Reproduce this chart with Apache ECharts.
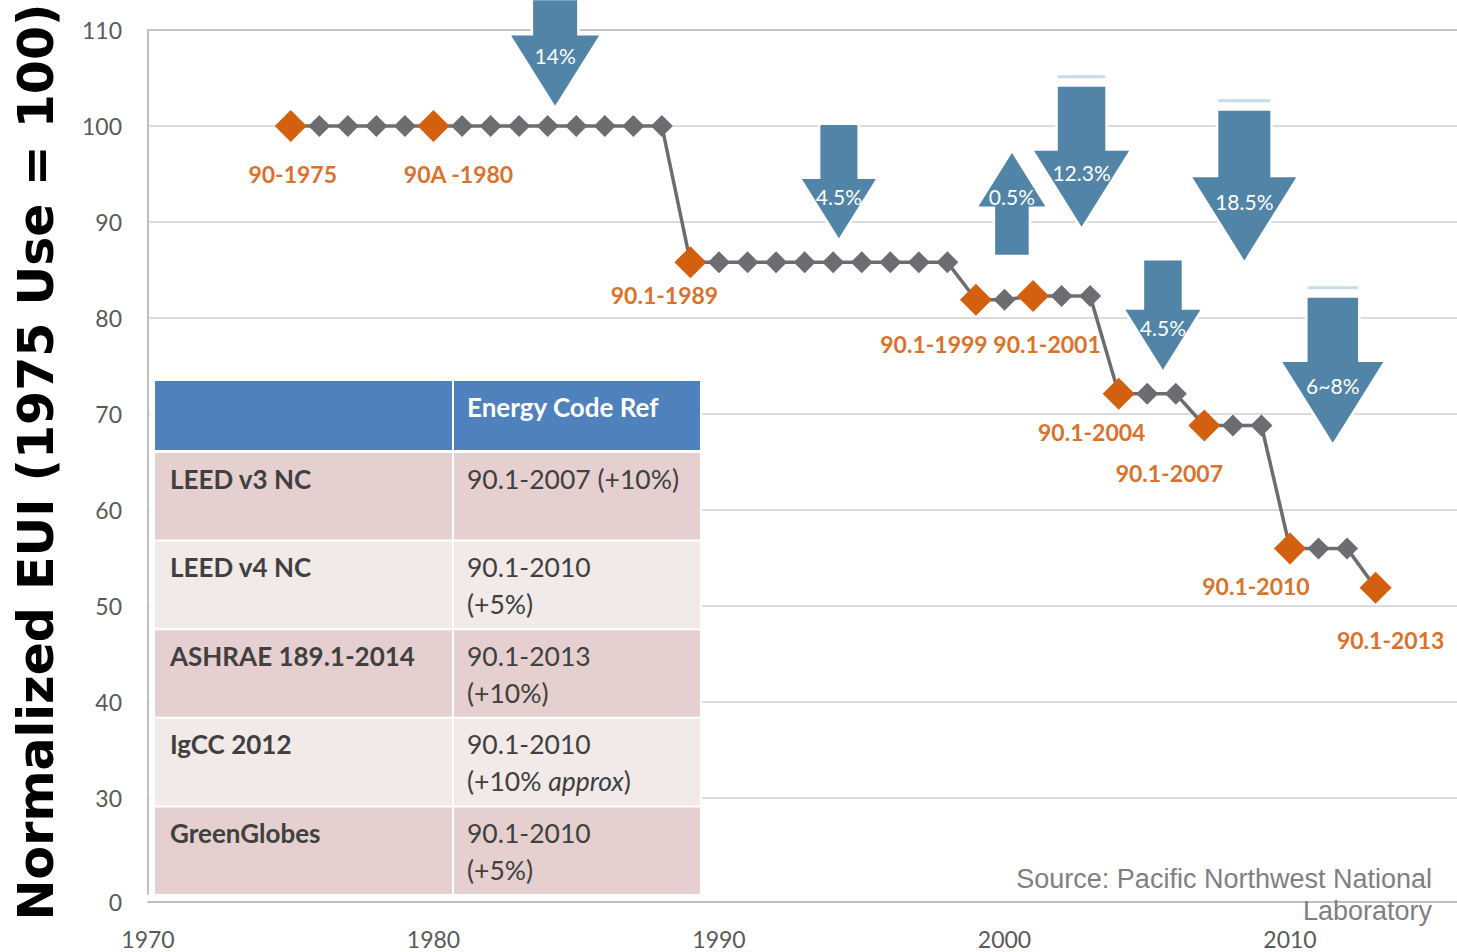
<!DOCTYPE html>
<html>
<head>
<meta charset="utf-8">
<script src="https://cdn.jsdelivr.net/npm/echarts@6/dist/echarts.min.js"></script>
<style>
  html, body { margin: 0; padding: 0; background: #fff; }
  #chart { width: 1457px; height: 952px; }
</style>
</head>
<body>
<div id="chart"></div>
<script>
/* ASHRAE 90.1 normalized EUI history, with green-code table overlay */

// yearly EUI (1975 = 100)
const years = [1975, 1976, 1977, 1978, 1979, 1980, 1981, 1982, 1983, 1984, 1985, 1986, 1987, 1988,
  1989, 1990, 1991, 1992, 1993, 1994, 1995, 1996, 1997, 1998,
  1999, 2000, 2001, 2002, 2003, 2004, 2005, 2006, 2007, 2008, 2009, 2010, 2011, 2012, 2013];
const euiValues = [100, 100, 100, 100, 100, 100, 100, 100, 100, 100, 100, 100, 100, 100,
  85.8, 85.8, 85.8, 85.8, 85.8, 85.8, 85.8, 85.8, 85.8, 85.8,
  81.9, 81.9, 82.3, 82.3, 82.3, 72.1, 72.1, 72.1, 68.8, 68.8, 68.8, 56.0, 56.0, 56.0, 51.9];

// code editions (orange points)
const codeYears = [1975, 1980, 1989, 1999, 2001, 2004, 2007, 2010, 2013];
const codeValues = [100, 100, 85.8, 81.9, 82.3, 72.1, 68.8, 56.0, 51.9];
const codeNames = ['90-1975', '90A -1980', '90.1-1989', '90.1-1999', '90.1-2001',
  '90.1-2004', '90.1-2007', '90.1-2010', '90.1-2013'];

// savings arrows: x (year), from value, to value, text
const arrowX = [1984.26, 1994.2, 2000.26, 2002.7, 2008.4, 2005.55, 2011.5];
const arrowFrom = [113.1, 100.1, 86.6, 104.1, 101.6, 86.0, 82.1];
const arrowTo = [102.1, 88.3, 97.2, 89.5, 86.0, 74.6, 67.0];
const arrowLabels = ['14%', '4.5%', '0.5%', '12.3%', '18.5%', '4.5%', '6~8%'];

// y ticks
const yTicks = [20, 30, 40, 50, 60, 70, 80, 90, 100, 110];
const yTickText = ['0', '30', '40', '50', '60', '70', '80', '90', '100', '110'];

// table
const tableHeader = ['', 'Energy Code Ref'];
const tablePrograms = ['LEED v3 NC', 'LEED v4 NC', 'ASHRAE 189.1-2014', 'IgCC 2012', 'GreenGlobes'];
const tableRefs = ['90.1-2007 (+10%)', '90.1-2010\n(+5%)', '90.1-2013\n(+10%)',
  '90.1-2010\n(+10% {i|approx})', '90.1-2010\n(+5%)'];

const sourceText = 'Source: Pacific Northwest National\nLaboratory';

// ---- styles / layout (not data) ----
const ORANGE = '#d2600e';
const ORANGE_TXT = '#d9732c';
const GREY = '#6b6d71';
const BLUE = '#5184a6';
const labelOffsets = [[2, 48], [25, 48], [-26, 33], [-42, 44], [14, 48], [-27, 38], [-35, 47], [-34, 38], [15, 52]];
const arrowWidths = [88, 74, 67, 95, 104, 75, 101];
const arrowCapped = [false, false, false, true, true, false, true];

const chart = echarts.init(document.getElementById('chart'), null, { renderer: 'svg' });

const splitColors = yTicks.map((v, i) => (i === 0 ? 'rgba(0,0,0,0)' : (i === yTicks.length - 1 ? '#c4c4c4' : '#dcdcdc')));

function renderArrow(params, api) {
  const i = params.dataIndex;
  const w = arrowWidths[i];
  const p0 = api.coord([api.value(0), api.value(1)]);
  const p1 = api.coord([api.value(0), api.value(2)]);
  const dir = p1[1] > p0[1] ? 1 : -1;
  const head = w * 0.8;
  const sw = w * 0.5;
  const cx = p0[0];
  const baseY = p1[1] - dir * head;
  const pts = [
    [cx - sw / 2, p0[1]], [cx + sw / 2, p0[1]], [cx + sw / 2, baseY], [cx + w / 2, baseY],
    [cx, p1[1]], [cx - w / 2, baseY], [cx - sw / 2, baseY],
  ];
  const children = [{
    type: 'polygon',
    shape: { points: pts },
    style: { fill: BLUE, stroke: '#fff', lineWidth: 5 },
    z2: 1,
  }, {
    type: 'polygon',
    shape: { points: pts },
    style: { fill: BLUE },
    z2: 2,
  }, {
    type: 'text',
    style: {
      text: arrowLabels[i],
      x: cx,
      y: baseY + dir * head * (dir > 0 ? 0.29 : 0.18),
      align: 'center',
      verticalAlign: 'middle',
      fill: '#fff',
      fontSize: 21,
      fontFamily: 'Lato',
    },
    z2: 3,
  }];
  if (arrowCapped[i]) {
    children.push({
      type: 'line',
      shape: { x1: cx - sw / 2, y1: p0[1] - 10, x2: cx + sw / 2, y2: p0[1] - 10 },
      style: { stroke: '#c9dbe7', lineWidth: 3 },
    });
  }
  return { type: 'group', children };
}

// table graphic
const T = { left: 155, right: 700, split: 452, top: 381, headH: 69, rowTop: 452, bottom: 895 };
const rowH = (T.bottom - T.rowTop) / tablePrograms.length;
const TZ = 20;
const tableEls = [
  { type: 'rect', z: TZ, shape: { x: 150, y: 377, width: 552, height: 522 }, style: { fill: '#fff' } },
  { type: 'rect', z: TZ, shape: { x: T.left, y: T.top, width: T.right - T.left, height: T.headH }, style: { fill: '#4f81bd' } },
  {
    type: 'text', z: TZ + 2,
    style: { text: tableHeader[1], x: T.split + 15, y: T.top + 26, verticalAlign: 'middle',
      fill: '#fff', fontSize: 26, fontWeight: 'bold', fontFamily: 'Lato' },
  },
];
tablePrograms.forEach((name, i) => {
  const y0 = T.rowTop + i * rowH;
  tableEls.push({
    type: 'rect', z: TZ,
    shape: { x: T.left, y: y0 + 1, width: T.right - T.left, height: rowH - 2 },
    style: { fill: i % 2 === 0 ? '#e6cfcf' : '#f2e9e9' },
  });
  tableEls.push({
    type: 'text', z: TZ + 2,
    style: { text: name, x: T.left + 15, y: y0 + 8, verticalAlign: 'top', lineHeight: 37,
      fill: '#404040', fontSize: 26, fontWeight: 'bold', fontFamily: 'Lato' },
  });
  tableEls.push({
    type: 'text', z: TZ + 2,
    style: { text: tableRefs[i], x: T.split + 15, y: y0 + 8, verticalAlign: 'top', lineHeight: 37,
      fill: '#404040', fontSize: 26.5, fontFamily: 'Lato',
      rich: { i: { fontStyle: 'italic', fontSize: 26.5, fontFamily: 'Lato', fill: '#404040', lineHeight: 37 } } },
  });
});
tableEls.push({ type: 'rect', z: TZ + 1, shape: { x: T.split, y: T.top, width: 2, height: T.bottom - T.top }, style: { fill: '#fff' } });

chart.setOption({
  backgroundColor: '#fff',
  animation: false,
  grid: { left: 148, right: 0, top: 30, bottom: 58 },
  xAxis: {
    type: 'value',
    min: 1970,
    max: 2015.85,
    interval: 10,
    offset: 8,
    axisLine: { lineStyle: { color: '#bfbfbf', width: 2 } },
    axisTick: { show: false },
    splitLine: { show: false },
    axisLabel: {
      showMaxLabel: false,
      margin: 25,
      color: '#595959',
      fontSize: 23,
      fontFamily: 'Lato',
      formatter: (v) => String(v),
    },
  },
  yAxis: {
    type: 'value',
    min: 20,
    max: 110,
    interval: 10,
    name: 'Normalized EUI (1975 Use = 100)',
    nameLocation: 'middle',
    nameGap: 87,
    nameTextStyle: { fontFamily: 'DejaVu Sans', fontWeight: 'bold', fontSize: 49, color: '#000' },
    axisLine: { show: true, lineStyle: { color: '#bfbfbf', width: 2 } },
    axisTick: { show: false },
    splitLine: { lineStyle: { color: splitColors, width: 2 } },
    axisLabel: {
      margin: 26,
      color: '#595959',
      fontSize: 23,
      fontFamily: 'Lato',
      formatter: (v) => {
        const t = yTickText[yTicks.indexOf(v)];
        return v === 20 ? '{z|' + t + '}' : t;
      },
      rich: { z: { padding: [16, 0, 0, 0], fontSize: 23, fontFamily: 'Lato', color: '#595959' } },
    },
  },
  graphic: [
    { type: 'group', z: TZ, children: tableEls },
    {
      type: 'text', z: TZ,
      style: { text: sourceText, x: 1432, y: 863, align: 'right', verticalAlign: 'top', lineHeight: 32,
        fill: '#7f7f7f', fontSize: 27, fontFamily: 'Liberation Sans' },
    },
  ],
  series: [
    {
      type: 'custom',
      name: 'savings',
      clip: false,
      z: 1,
      silent: true,
      renderItem: renderArrow,
      encode: { x: 0, y: [1, 2] },
      data: arrowX.map((x, i) => [x, arrowFrom[i], arrowTo[i]]),
    },
    {
      type: 'scatter',
      name: 'code refs',
      z: 2,
      symbolSize: 0,
      silent: true,
      data: codeYears.map((y, i) => [y, codeValues[i]]),
      markLine: {
        silent: true,
        symbol: 'none',
        label: { show: false },
        lineStyle: { color: '#4a80a8', type: [5, 3], width: 2 },
        data: codeYears.slice(1).map((y, i) => [{ coord: [y, 110.5] }, { coord: [y, codeValues[i + 1]] }]),
      },
    },
    {
      type: 'line',
      name: 'EUI',
      z: 3,
      data: years.map((y, i) => [y, euiValues[i]]),
      symbol: 'diamond',
      symbolSize: 22,
      itemStyle: { color: GREY },
      lineStyle: { color: GREY, width: 3.5 },
    },
    {
      type: 'scatter',
      name: 'code editions',
      z: 4,
      symbol: 'diamond',
      symbolSize: 32,
      itemStyle: { color: ORANGE, opacity: 1 },
      data: codeYears.map((y, i) => ({
        value: [y, codeValues[i]],
        label: { offset: labelOffsets[i] },
      })),
      label: {
        show: true,
        position: 'inside',
        formatter: (p) => codeNames[p.dataIndex],
        color: ORANGE_TXT,
        fontSize: 23,
        fontWeight: 'bold',
        fontFamily: 'Lato',
        textBorderColor: '#fff',
        textBorderWidth: 3,
      },
    },
  ],
});
</script>
</body>
</html>
